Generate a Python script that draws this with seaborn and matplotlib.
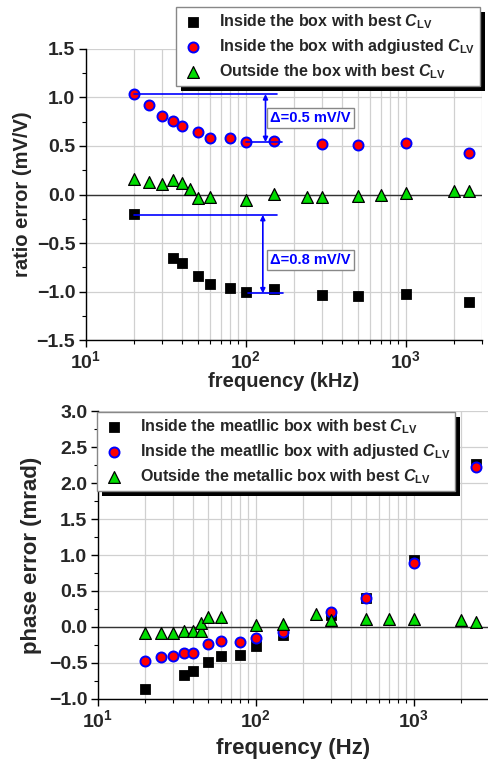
import numpy as np
import pandas as pd
import matplotlib
matplotlib.use("Agg")
import matplotlib.pyplot as plt
from matplotlib import patheffects
from matplotlib.ticker import LogLocator, FuncFormatter, MultipleLocator, NullFormatter
import seaborn as sns

# ratio error (top panel), frequency in kHz
ratio_best_f = [20, 35, 40, 50, 60, 80, 100, 150, 300, 500, 1000, 2500]
ratio_best = [-0.20, -0.655, -0.71, -0.84, -0.92, -0.96, -1.01, -0.975, -1.035, -1.05, -1.03, -1.11]
ratio_adj_f = [20, 25, 30, 35, 40, 50, 60, 80, 100, 150, 300, 500, 1000, 2500]
ratio_adj = [1.035, 0.92, 0.81, 0.76, 0.71, 0.64, 0.58, 0.585, 0.54, 0.55, 0.52, 0.515, 0.535, 0.43]
ratio_out_f = [20, 25, 30, 35, 40, 45, 50, 60, 100, 150, 240, 300, 500, 700, 1000, 2000, 2500]
ratio_out = [0.16, 0.13, 0.11, 0.15, 0.12, 0.055, -0.035, -0.03, -0.055, 0.01, -0.03, -0.03,
             -0.015, -0.01, 0.015, 0.04, 0.04]

# phase error (bottom panel), frequency in Hz
phase_best_f = [20, 35, 40, 50, 60, 80, 100, 150, 300, 500, 1000, 2500]
phase_best = [-0.86, -0.665, -0.615, -0.49, -0.40, -0.385, -0.265, -0.115, 0.16, 0.405, 0.925, 2.27]
phase_adj_f = [20, 25, 30, 35, 40, 50, 60, 80, 100, 150, 300, 500, 1000, 2500]
phase_adj = [-0.475, -0.42, -0.405, -0.36, -0.355, -0.24, -0.19, -0.205, -0.155, -0.075,
             0.205, 0.405, 0.895, 2.22]
phase_out_f = [20, 25, 30, 35, 40, 45, 45, 50, 60, 100, 150, 240, 300, 500, 700, 1000, 2000, 2500]
phase_out = [-0.08, -0.09, -0.08, -0.05, -0.06, -0.06, 0.06, 0.135, 0.135, 0.03, 0.035, 0.175,
             0.10, 0.11, 0.11, 0.11, 0.10, 0.065]

ratio_labels = [r"Inside the box with best $\mathit{C}_{\mathbf{LV}}$",
                r"Inside the box with adgiusted $\mathit{C}_{\mathbf{LV}}$",
                r"Outside the box with best $\mathit{C}_{\mathbf{LV}}$"]
phase_labels = [r"Inside the meatllic box with best $\mathit{C}_{\mathbf{LV}}$",
                r"Inside the meatllic box with adjusted $\mathit{C}_{\mathbf{LV}}$",
                r"Outside the metallic box with best $\mathit{C}_{\mathbf{LV}}$"]

sns.set_theme(style="ticks")
plt.rcParams["font.family"] = ["Liberation Sans", "DejaVu Sans"]
plt.rcParams["font.weight"] = "bold"
plt.rcParams["axes.labelweight"] = "bold"
plt.rcParams["mathtext.fontset"] = "custom"
plt.rcParams["mathtext.rm"] = "Liberation Sans:bold"
plt.rcParams["mathtext.bf"] = "Liberation Sans:bold"
plt.rcParams["mathtext.it"] = "Liberation Sans:italic:bold"

styles = [dict(marker="s", color="black", edgecolor="black", s=52),
          dict(marker="o", color="red", edgecolor="blue", s=52, linewidth=1.4),
          dict(marker="^", color="#00dd00", edgecolor="black", s=72, linewidth=0.9)]


def sci_fmt(x, pos):
    e = int(round(np.log10(x)))
    return r"$\mathbf{10^{%d}}$" % e


def style_axes(ax, ylim, tick_size):
    ax.set_xscale("log")
    ax.set_xlim(10, 3000)
    ax.set_ylim(*ylim)
    ax.xaxis.set_major_locator(LogLocator(base=10, numticks=10))
    ax.xaxis.set_major_formatter(FuncFormatter(sci_fmt))
    ax.xaxis.set_minor_locator(LogLocator(base=10, subs=np.arange(2, 10), numticks=20))
    ax.xaxis.set_minor_formatter(NullFormatter())
    ax.yaxis.set_major_locator(MultipleLocator(0.5))
    ax.yaxis.set_minor_locator(MultipleLocator(0.25))
    ax.grid(True, which="major", color="#d0d0d0", linewidth=0.9)
    ax.grid(True, which="minor", axis="x", color="#d0d0d0", linewidth=0.9)
    ax.set_axisbelow(True)
    ax.axhline(0, color="#333333", linewidth=1.0, zorder=1.5)
    sns.despine(ax=ax, top=True, right=True)
    for sp in ax.spines.values():
        sp.set_color("black")
        sp.set_linewidth(1.0)
    ax.tick_params(which="major", direction="out", length=5, width=1, labelsize=tick_size,
                   color="black", pad=2.5)
    ax.tick_params(which="minor", direction="out", length=3, width=0.8, color="black")
    ax.tick_params(axis="both", which="both", bottom=True, left=True)
    for lab in ax.get_yticklabels():
        lab.set_fontweight("bold")


def draw_series(ax, xs, ys, labels):
    for (fx, fy), lab, st in zip(zip(xs, ys), labels, styles):
        df = pd.DataFrame({"f": fx, "v": fy})
        sns.scatterplot(data=df, x="f", y="v", ax=ax, label=lab, zorder=3, **st)


def add_legend(ax, loc, anchor, fontsize):
    leg = ax.legend(loc=loc, bbox_to_anchor=anchor, bbox_transform=fig.transFigure,
                    fontsize=fontsize, frameon=True, fancybox=False, framealpha=1,
                    edgecolor="#888888", borderpad=0.3, labelspacing=0.4,
                    handletextpad=0.9, handlelength=1.5, borderaxespad=0)
    leg.get_frame().set_linewidth(1.0)
    leg.get_frame().set_path_effects([
        patheffects.withSimplePatchShadow(offset=(3.5, -3.5), shadow_rgbFace="black", alpha=1.0)])
    for t in leg.get_texts():
        t.set_fontweight("bold")
    return leg


fig = plt.figure(figsize=(4.88, 7.62), dpi=100)
ax1 = fig.add_axes([0.1756, 0.5538, 0.8121, 0.3819])
ax2 = fig.add_axes([0.2002, 0.0827, 0.8018, 0.3779])

# top panel
draw_series(ax1, [ratio_best_f, ratio_adj_f, ratio_out_f], [ratio_best, ratio_adj, ratio_out],
            ratio_labels)
style_axes(ax1, (-1.5, 1.5), 14)
ax1.set_xlabel("frequency (kHz)", fontsize=14.5, fontweight="bold", labelpad=0)
ax1.set_ylabel("ratio error (mV/V)", fontsize=14.5, fontweight="bold", labelpad=3)
add_legend(ax1, "upper right", (0.9836, 0.9908), 11.5)

blue = "#0000ff"
# delta annotations
ax1.plot([20, 158], [ratio_adj[0], ratio_adj[0]], color=blue, lw=1.2, zorder=4)
ax1.plot([100, 168], [ratio_adj[8], ratio_adj[8]], color=blue, lw=1.2, zorder=4)
ax1.annotate("", xy=(133, ratio_adj[8]), xytext=(133, ratio_adj[0]),
             arrowprops=dict(arrowstyle="<|-|>", color=blue, lw=1.2,
                             mutation_scale=7, shrinkA=0, shrinkB=0), zorder=4)
ax1.text(142, 0.79, "\u0394=0.5 mV/V", color=blue, fontsize=10.5, fontweight="bold",
         va="center", ha="left", zorder=5,
         bbox=dict(boxstyle="square,pad=0.22", fc="white", ec="#888888", lw=1.0))
ax1.plot([20, 158], [-0.21, -0.21], color=blue, lw=1.2, zorder=4)
ax1.plot([104, 172], [-1.02, -1.02], color=blue, lw=1.2, zorder=4)
ax1.annotate("", xy=(128, -1.02), xytext=(128, -0.21),
             arrowprops=dict(arrowstyle="<|-|>", color=blue, lw=1.2,
                             mutation_scale=7, shrinkA=0, shrinkB=0), zorder=4)
ax1.text(142, -0.675, "\u0394=0.8 mV/V", color=blue, fontsize=10.5, fontweight="bold",
         va="center", ha="left", zorder=5,
         bbox=dict(boxstyle="square,pad=0.22", fc="white", ec="#888888", lw=1.0))

# bottom panel
draw_series(ax2, [phase_best_f, phase_adj_f, phase_out_f], [phase_best, phase_adj, phase_out],
            phase_labels)
style_axes(ax2, (-1.0, 3.0), 14)
ax2.set_xlabel("frequency (Hz)", fontsize=16, fontweight="bold", labelpad=5)
ax2.set_ylabel("phase error (mrad)", fontsize=16, fontweight="bold", labelpad=5)
add_legend(ax2, "upper left", (0.1988, 0.4593), 11.5)

fig.savefig("out.png", dpi=100)
